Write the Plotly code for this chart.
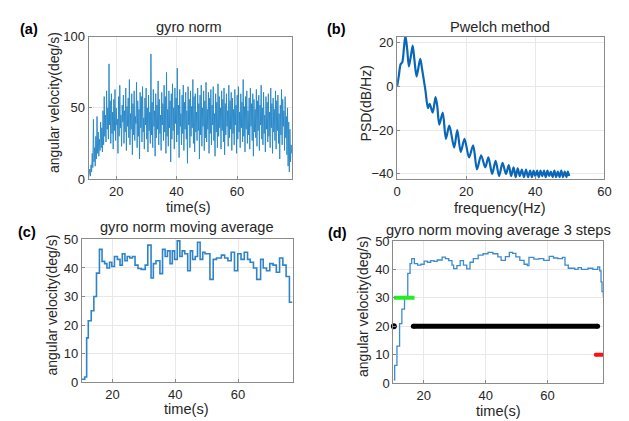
import plotly.graph_objects as go

# ---------------- data ----------------
# (a) gyro norm (hand-estimated samples, evenly spaced in time)
gyro_t_start = 10.9
gyro_t_end = 78.1
gyro_norm = [
    1, 3, 7, 2, 10, 5, 18, 8, 42, 12, 22, 9, 30, 14, 44, 18, 33, 16, 28, 20,
    40, 22, 36, 19, 48, 24, 58, 30, 45, 26, 62, 35, 50, 28, 81, 38, 55, 25, 60, 32,
    47, 21, 56, 34, 63, 27, 50, 38, 42, 18, 58, 30, 66, 36, 45, 23, 52, 40, 59, 25,
    48, 33, 64, 20, 51, 37, 57, 29, 70, 24, 46, 35, 60, 17, 53, 31, 62, 27, 44, 39,
    68, 22, 55, 30, 49, 14, 61, 36, 58, 26, 65, 33, 43, 21, 57, 38, 64, 28, 50, 19,
    59, 34, 47, 25, 88, 31, 54, 22, 63, 37, 48, 16, 60, 29, 52, 35, 69, 24, 56, 32,
    45, 20, 61, 38, 53, 27, 66, 33, 58, 18, 75, 30, 49, 23, 62, 36, 55, 12, 60, 28,
    67, 34, 50, 21, 64, 39, 57, 26, 78, 31, 52, 15, 63, 37, 46, 24, 59, 32, 66, 20,
    54, 35, 61, 28, 48, 11, 65, 38, 56, 22, 62, 30, 51, 36, 70, 25, 58, 19, 60, 33,
    47, 27, 64, 34, 53, 14, 59, 31, 66, 23, 50, 37, 62, 20, 55, 29, 68, 26, 49, 35,
    61, 18, 57, 32, 63, 24, 52, 38, 65, 27, 46, 16, 60, 33, 54, 22, 67, 30, 58, 36,
    50, 21, 62, 34, 56, 26, 64, 17, 53, 31, 60, 37, 48, 23, 66, 29, 55, 35, 61, 20,
    57, 32, 49, 24, 63, 38, 52, 18, 59, 28, 65, 33, 47, 22, 60, 36, 54, 26, 70, 30,
    51, 19, 58, 35, 62, 25, 48, 31, 57, 21, 64, 37, 53, 27, 60, 16, 56, 33, 49, 29,
    63, 23, 55, 34, 59, 20, 52, 38, 66, 28, 50, 24, 61, 32, 45, 19, 58, 35, 54, 26,
    60, 30, 47, 22, 64, 36, 53, 18, 57, 33, 49, 27, 62, 21, 55, 34, 59, 25, 46, 14,
    52, 31, 63, 24, 56, 37, 48, 20, 58, 29, 44, 17, 50, 9, 40, 5, 35, 12, 24, 18,
]
n_g = len(gyro_norm)
gyro_time = [gyro_t_start + i * (gyro_t_end - gyro_t_start) / (n_g - 1) for i in range(n_g)]

# (b) Pwelch PSD
psd_freq = [0, 0.5, 1.0, 1.5, 2.0, 2.4, 2.9, 3.4, 4.0, 4.5, 5.0, 5.6, 6.1, 6.7, 7.2, 7.6,
            8.2, 8.9, 9.4, 10.3, 11.1, 11.6, 12.2, 13.2, 14.1, 15.1, 16.5, 17.4, 18.4,
            19.5, 20.8, 22.0, 23.1, 24.3, 25.5, 26.4, 27.5, 28.5, 29.5, 30.5, 31.5, 32.3,
            33.0, 33.7, 34.3, 34.9, 35.5, 36.1, 36.7, 37.3, 37.9, 38.5, 39.0, 39.5, 40.0,
            40.5, 41.0, 41.5, 42.0, 42.5, 43.0, 43.5, 44.0, 44.5, 45.0, 45.5, 46.0, 46.5,
            47.0, 47.5, 48.0, 48.5, 49.0, 49.4, 49.8]
psd_db = [0, 5, 10, 11, 18, 23, 17, 9, 14, 18.5, 12, 4.5, 8, 12.5, 8, 4,
          -2, -10, -8, -12, -5, -9, -17.5, -12, -24, -18, -28, -20, -30,
          -24, -32.5, -27, -38, -31.5, -37, -32.5, -40, -34, -41, -35, -40, -36,
          -41, -37, -41.5, -37.5, -41, -38, -41.5, -38, -41.5, -38.5, -41.5, -38.5, -41,
          -38.5, -41.5, -38.5, -41, -38.5, -41.5, -38.5, -41, -39, -41.5, -38.5, -41.5, -39,
          -41.5, -38.5, -41.5, -39, -41.5, -39, -41]

# (c) moving average (step start times, values)
ma_time = [10.2, 11.14, 11.76, 12.28, 13.22, 14.05, 14.89, 15.83, 16.66, 17.49, 18.22,
           19.05, 19.78, 20.62, 21.55, 22.39, 23.12, 23.95, 24.68, 25.51, 26.35, 27.18,
           28.12, 29.16, 30.41, 31.24, 32.28, 33.01, 33.85, 35.1, 35.93, 36.76, 37.49,
           38.32, 39.05, 39.78, 40.62, 41.45, 42.18, 43.01, 43.95, 44.78, 45.51, 46.35,
           47.08, 47.91, 48.74, 49.47, 51.03, 52.08, 53.12, 54.68, 55.72, 56.76, 57.8,
           58.85, 59.89, 60.93, 61.97, 63.01, 63.85, 64.89, 65.93, 67.18, 68.01, 69.05,
           70.09, 71.14, 72.18, 73.22, 74.26, 75.3, 76.35, 77.28]
ma_value = [1.0, 1.8, 15.5, 21.5, 25, 30, 38.2, 46.5, 42.3, 41.5, 40,
            42, 40.5, 44, 43, 41, 45, 42.5, 44, 43.5, 44, 41,
            39.8, 39.5, 41, 48, 36.5, 41.5, 42.5, 38, 46.5, 44, 46,
            41.5, 46, 43, 49.5, 44, 46, 45, 39, 46, 43, 44,
            49, 43, 45.5, 45, 36, 43, 43.5, 44.5, 43.5, 42.5, 45.5,
            39, 45, 43, 45.5, 43, 42, 40, 36, 43, 40, 39,
            41.5, 41, 38.5, 43.5, 41, 37, 28, 28]

# (d) moving average 3 steps
ma3_time = [10.25, 10.57, 11.31, 12.16, 12.9, 13.75, 14.81, 15.55, 16.08, 16.93, 17.99,
            19.05, 20.11, 21.17, 22.22, 23.28, 24.34, 25.93, 26.99, 28.05, 29.11, 29.64,
            30.7, 31.76, 32.82, 33.88, 34.94, 36.0, 37.58, 39.17, 40.76, 42.35, 43.94,
            45.0, 46.38, 47.65, 48.71, 49.77, 51.04, 52.42, 53.47, 54.0, 55.59, 57.18,
            58.77, 60.57, 61.95, 63.33, 64.81, 65.66, 66.72, 68.83, 69.89, 70.95, 73.07,
            74.66, 76.25, 76.89, 77.31, 77.63, 78.05]
ma3_value = [1.1, 6.2, 13, 20.9, 26, 30.3, 38.6, 42, 43.8, 42, 41.5,
             41.8, 42.9, 42.5, 43.1, 42.8, 43.3, 44.3, 43.8, 43.1, 41.5, 40.3,
             41.3, 43.1, 41.5, 40.2, 42.5, 43.8, 45, 45.5, 46, 45.5, 44.4,
             43.2, 44.5, 46, 45.6, 44.4, 43.2, 41.8, 41.3, 44.2, 43.6, 43.8,
             43.2, 44.6, 44.0, 43.8, 44.2, 41.5, 40.4, 40.0, 40.6, 40.0, 40.4,
             40.0, 40.9, 39.5, 35.6, 32.2, 30.3]

# (d) state markers
green_x = [10.3, 17.0]
green_level = 30
black_dot_x = [10.3]
black_x = [16.6, 76.2]
black_level = 20
red_x = [75.6, 78.4]
red_level = 10

# ---------------- figure ----------------
W, H = 629, 421
FONT = "Liberation Sans"
TXT = "#262626"


def px_x(p):
    return p / W


def px_y(p):
    return (H - p) / H


fig = go.Figure()

fig.add_trace(go.Scatter(x=gyro_time, y=gyro_norm, mode="lines", opacity=0.85,
                         line=dict(color="#0072BD", width=0.9), xaxis="x", yaxis="y"))
fig.add_trace(go.Scatter(x=psd_freq, y=psd_db, mode="lines",
                         line=dict(color="#0a66b8", width=2.2, shape="spline", smoothing=0.8),
                         xaxis="x2", yaxis="y2"))
fig.add_trace(go.Scatter(x=ma_time, y=ma_value, mode="lines",
                         line=dict(color="#2f84c9", width=1.6, shape="hv"),
                         xaxis="x3", yaxis="y3"))
fig.add_trace(go.Scatter(x=ma3_time, y=ma3_value, mode="lines",
                         line=dict(color="#3a8bd0", width=1.3, shape="hv"),
                         xaxis="x4", yaxis="y4"))
fig.add_trace(go.Scatter(x=green_x, y=[green_level] * len(green_x), mode="lines",
                         line=dict(color="#22ee22", width=4), xaxis="x4", yaxis="y4",
                         cliponaxis=False))
fig.add_trace(go.Scatter(x=black_dot_x, y=[black_level] * len(black_dot_x), mode="markers",
                         marker=dict(color="black", size=6), xaxis="x4", yaxis="y4",
                         cliponaxis=False))
fig.add_trace(go.Scatter(x=black_x, y=[black_level] * len(black_x), mode="lines+markers",
                         line=dict(color="black", width=5), marker=dict(color="black", size=5),
                         xaxis="x4", yaxis="y4", cliponaxis=False))
fig.add_trace(go.Scatter(x=red_x, y=[red_level] * len(red_x), mode="lines+markers",
                         line=dict(color="#ff1010", width=4), marker=dict(color="#ff1010", size=4),
                         xaxis="x4", yaxis="y4", cliponaxis=False))

axis_common = dict(showline=True, mirror=True, linecolor="#8a8a8a", linewidth=1,
                   ticks="inside", ticklen=3, tickcolor="#8a8a8a",
                   showgrid=True, gridcolor="#e8e8e8", gridwidth=1, zeroline=False,
                   tickfont=dict(family=FONT, size=13, color=TXT), fixedrange=True)

layout = dict(
    width=W, height=H, margin=dict(l=0, r=0, t=0, b=0),
    paper_bgcolor="white", plot_bgcolor="white", showlegend=False,
    font=dict(family=FONT, color=TXT),
    xaxis=dict(domain=[px_x(78), px_x(285)], range=[10.9, 78.2], tickvals=[20, 40, 60],
               anchor="y", **axis_common),
    yaxis=dict(domain=[px_y(170), px_y(22.7)], range=[0, 100], tickvals=[0, 50, 100],
               anchor="x", **axis_common),
    xaxis2=dict(domain=[px_x(392), px_x(603)], range=[0, 60], tickvals=[0, 20, 40, 60],
                anchor="y2", **axis_common),
    yaxis2=dict(domain=[px_y(170), px_y(22.7)], range=[-42.3, 22.5], tickvals=[-40, -20, 0, 20],
                anchor="x2", **axis_common),
    xaxis3=dict(domain=[px_x(71), px_x(285.7)], range=[10.2, 77.4], tickvals=[20, 40, 60],
                anchor="y3", **axis_common),
    yaxis3=dict(domain=[px_y(380.7), px_y(232.7)], range=[0, 50], tickvals=[0, 10, 20, 30, 40, 50],
                anchor="x3", **axis_common),
    xaxis4=dict(domain=[px_x(388), px_x(602)], range=[10.1, 78.1], tickvals=[20, 40, 60],
                anchor="y4", **axis_common),
    yaxis4=dict(domain=[px_y(381.7), px_y(234.3)], range=[0, 50], tickvals=[0, 10, 20, 30, 40, 50],
                anchor="x4", **axis_common),
)
fig.update_layout(**layout)


def note(text, x, y, size=14.6, angle=0, bold=False):
    fig.add_annotation(text=f"<b>{text}</b>" if bold else text,
                       x=px_x(x), y=px_y(y), xref="paper", yref="paper",
                       xanchor="center", yanchor="middle", showarrow=False, textangle=angle,
                       font=dict(family=FONT, size=size, color="black" if bold else TXT))


# titles
note("gyro norm", 180, 12)
note("Pwelch method", 497, 12)
note("gyro norm moving average", 178, 220)
note("gyro norm moving average 3 steps", 495, 223)
# x labels
note("time(s)", 180, 199)
note("frequency(Hz)", 497, 200)
note("time(s)", 178, 409)
note("time(s)", 495, 411)
# y labels
note("angular velocity(deg/s)", 43, 91, size=14, angle=-90)
note("PSD(dB/Hz)", 360, 92, size=14, angle=-90)
note("angular velocity(deg/s)", 41, 301, size=14, angle=-90)
note("angular velocity(deg/s)", 358, 302, size=14, angle=-90)
# panel labels
note("(a)", 17, 15, size=14.5, bold=True)
note("(b)", 330, 15, size=14.5, bold=True)
note("(c)", 15, 225, size=14.5, bold=True)
note("(d)", 331, 226, size=14.5, bold=True)

fig.write_html("out.html")
